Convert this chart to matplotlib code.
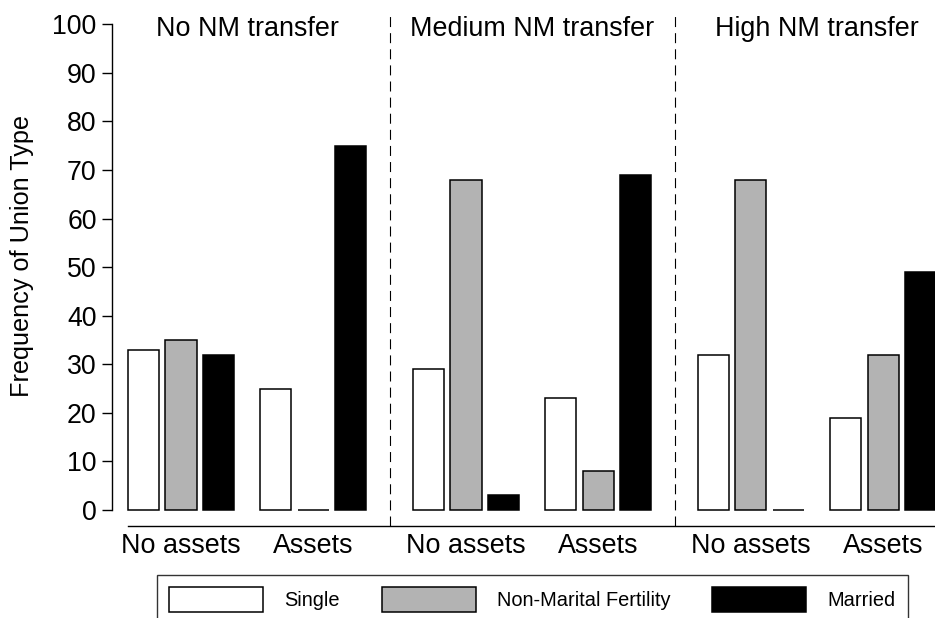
import matplotlib
matplotlib.use("Agg")
import matplotlib.pyplot as plt
from matplotlib.patches import Patch

plt.rcParams['font.family'] = ['Liberation Sans', 'DejaVu Sans']

panels = ["No NM transfer", "Medium NM transfer", "High NM transfer"]
groups = ["No assets", "Assets"]
series = ["Single", "Non-Marital Fertility", "Married"]

# values[panel][group] for each series
single = [[33, 25], [29, 23], [32, 19]]
nonmarital = [[35, 0], [68, 8], [68, 32]]
married = [[32, 75], [3, 69], [0, 49]]

colors = ["white", "#b3b3b3", "black"]
yticks = list(range(0, 101, 10))

W, H = 935, 618
fig = plt.figure(figsize=(W / 100, H / 100), dpi=100)
ax = fig.add_axes([112 / W, 1 - 526 / H, 1 - 112 / W, (526 - 12) / H])

bar_w = 0.827
group_gap = 3.533
panel_gap = 7.6
data = [single, nonmarital, married]

tick_pos, tick_lab = [], []
for p in range(len(panels)):
    for g in range(len(groups)):
        base = p * panel_gap + g * group_gap
        for s in range(len(series)):
            ax.bar(base + s, data[s][p][g], width=bar_w, color=colors[s],
                   edgecolor="black", linewidth=1.1, zorder=3)
        tick_pos.append(base + 1)
        tick_lab.append(groups[g])
    ax.text(p * panel_gap + (group_gap + 2) / 2, 97.6, panels[p],
            ha="center", va="baseline", fontsize=19.4)

for p in range(1, len(panels)):
    xd = p * panel_gap - (panel_gap - group_gap - 2) / 2
    ax.axvline(xd, color="black", lw=0.8, dashes=(9, 5.5), zorder=2)

ax.set_xlim(-0.84, 21.107)
ax.set_ylim(-3.29, 102.53)
ax.set_yticks(yticks)
ax.set_yticklabels([str(v) for v in yticks], fontsize=19.2)
ax.set_xticks(tick_pos)
ax.set_xticklabels(tick_lab, fontsize=19.4)
ax.tick_params(axis="x", length=0, pad=5.0)
ax.tick_params(axis="y", length=7.4, width=1.0, pad=3.6)
for side in ["top", "right"]:
    ax.spines[side].set_visible(False)
ax.spines["left"].set_bounds(0, 100)
ax.spines["left"].set_linewidth(1.0)
ax.spines["bottom"].set_bounds(-bar_w / 2, 21.2)
ax.spines["bottom"].set_linewidth(1.0)

fig.text(22 / W, 1 - 256 / H, "Frequency of Union Type", rotation=90,
         ha="center", va="center", fontsize=18.2)

handles = [Patch(facecolor=c, edgecolor="black", linewidth=1.1) for c in colors]
leg = fig.legend(handles, series, loc="upper center", ncol=3,
                 bbox_to_anchor=(532.5 / W, 1 - 575 / H), fontsize=14.4,
                 frameon=True, fancybox=False, shadow=False,
                 handlelength=4.7, handleheight=1.57, handletextpad=1.05,
                 columnspacing=2.1, borderpad=0.6, borderaxespad=0)
leg.get_frame().set_edgecolor("black")
leg.get_frame().set_linewidth(1.0)

fig.savefig("out.png", dpi=100)
